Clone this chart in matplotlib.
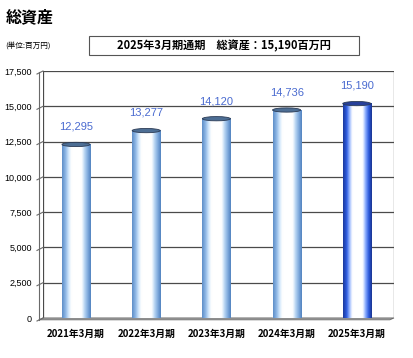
import matplotlib.pyplot as plt
import matplotlib.patches as mpatches
import numpy as np
from matplotlib.colors import LinearSegmentedColormap

plt.rcParams['font.family'] = ['Noto Sans CJK JP', 'DejaVu Sans']

# data
periods = ['2021年3月期', '2022年3月期', '2023年3月期', '2024年3月期', '2025年3月期']
assets = [12295, 13277, 14120, 14736, 15190]
yticks = [0, 2500, 5000, 7500, 10000, 12500, 15000, 17500]

W, H = 414, 358
fig = plt.figure(figsize=(W / 100, H / 100), dpi=100)
ax = fig.add_axes([43 / W, 40 / H, 351 / W, 247 / H])

# cylinder colour gradients (left -> right)
light = LinearSegmentedColormap.from_list('light', [
    (0.0, '#5f8fc8'), (0.12, '#8fb8e6'), (0.22, '#cfe6fb'), (0.32, '#ffffff'),
    (0.68, '#ffffff'), (0.78, '#bcd8f4'), (0.9, '#7ea9dc'), (1.0, '#5283c0')])
dark = LinearSegmentedColormap.from_list('dark', [
    (0.0, '#1c3a9c'), (0.12, '#2c5be0'), (0.22, '#9ab8ff'), (0.32, '#ffffff'),
    (0.68, '#ffffff'), (0.78, '#8fb0ff'), (0.9, '#2a58dc'), (1.0, '#1a3590')])

grad = np.linspace(0, 1, 64).reshape(1, -1)
bw = 0.4
eh = 300  # ellipse height in data units

x = np.arange(len(periods)) - 0.03
for i, v in enumerate(assets):
    cmap = dark if i == len(assets) - 1 else light
    ax.imshow(grad, cmap=cmap, aspect='auto', extent=(x[i] - bw / 2, x[i] + bw / 2, 0, v),
              zorder=3, interpolation='bicubic')
    ax.add_patch(mpatches.Ellipse((x[i], 0), bw, eh, facecolor=cmap(0.5), edgecolor='none', zorder=2.9))
    top = '#27409a' if i == len(assets) - 1 else '#4d6e94'
    ax.add_patch(mpatches.Ellipse((x[i], v), bw, eh, facecolor=top, edgecolor='#2b3b55', lw=0.6, zorder=4))
    ax.text(x[i], v + 900, f'{v:,}', ha='center', va='bottom', color='#4a6bd0',
            fontsize=8, family=['Liberation Sans', 'DejaVu Sans'], zorder=5)

ax.set_xlim(-0.5, 4.5)
ax.set_ylim(0, 17500)

# back-wall gridlines
for t in yticks:
    ax.axhline(t, color='#4a4a4a', lw=0.9, zorder=1)
ax.axvline(-0.5, color='#4a4a4a', lw=0.9, zorder=1)
ax.axvline(4.5, color='#4a4a4a', lw=0.9, zorder=1)

# floor
floor = mpatches.Polygon([(-0.5, 0), (4.5, 0), (4.44, -130), (-0.56, -130)], closed=True,
                         facecolor='#a8a8a8', edgecolor='#6a6a6a', lw=0.6, clip_on=False, zorder=2)
ax.add_patch(floor)

for s in ax.spines.values():
    s.set_visible(False)
ax.set_yticks(yticks)
ax.set_yticklabels([f'{t:,}' for t in yticks], fontsize=6.5, family=['Liberation Sans', 'DejaVu Sans'])
ax.tick_params(axis='y', length=0, pad=8)
ax.set_xticks(x)
ax.set_xticklabels(periods, fontsize=7, fontweight='bold')
ax.tick_params(axis='x', length=0, pad=8)

# front-left axis with little diagonal ticks
fig.add_artist(plt.Line2D([39 / W, 39 / W], [1 - 72 / H, 1 - 320 / H], color='#6a6a6a', lw=0.8))
for t in yticks:
    yy = 40 / H + t / 17500 * 247 / H
    fig.add_artist(plt.Line2D([37 / W, 43 / W], [yy - 3 / H, yy], color='#6a6a6a', lw=0.8))

fig.text(6 / W, 1 - 17 / H, '総資産', fontsize=11.5, fontweight='bold', va='center')
fig.text(5 / W, 1 - 46 / H, '(単位:百万円)', fontsize=5.5, va='center')
fig.text(224 / W, 1 - 46 / H, '2025年3月期通期　総資産：15,190百万円', fontsize=8, fontweight='bold',
         ha='center', va='center')
fig.add_artist(mpatches.Rectangle((89 / W, 1 - 55 / H), 270 / W, 19 / H, facecolor='none',
                                  edgecolor='#555555', lw=0.8, transform=fig.transFigure))

fig.savefig('out.png', dpi=100)
